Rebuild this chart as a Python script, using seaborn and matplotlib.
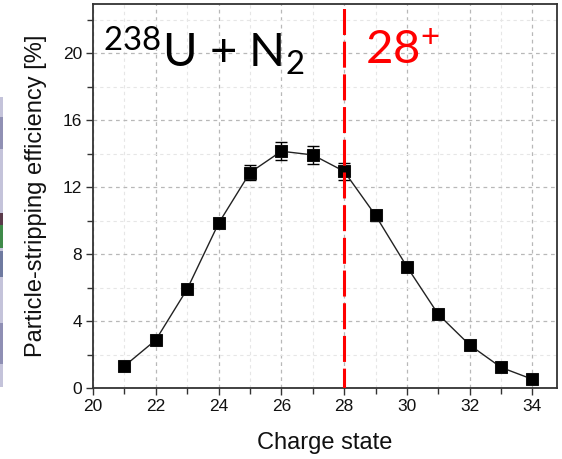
import matplotlib
matplotlib.use("Agg")
import matplotlib.pyplot as plt
from matplotlib.patches import Rectangle
from matplotlib.ticker import MultipleLocator
import numpy as np
import pandas as pd
import seaborn as sns

# Charge-state distribution of 238U after stripping in N2 gas
charge_state = [21, 22, 23, 24, 25, 26, 27, 28, 29, 30, 31, 32, 33, 34]
efficiency = [1.31, 2.87, 5.91, 9.84, 12.87, 14.15, 13.93, 12.95, 10.32, 7.25, 4.40, 2.57, 1.23, 0.52]
efficiency_err = [0.12, 0.15, 0.18, 0.30, 0.45, 0.55, 0.55, 0.50, 0.32, 0.20, 0.15, 0.12, 0.10, 0.10]
selected_charge = 28

x_ticks = [20, 22, 24, 26, 28, 30, 32, 34]
y_ticks = [0, 4, 8, 12, 16, 20]

sns.set_theme(style="white")
plt.rcParams["font.family"] = ["Liberation Sans", "DejaVu Sans"]
plt.rcParams["mathtext.fontset"] = "custom"
plt.rcParams["mathtext.rm"] = "Lato"

df = pd.DataFrame({"charge": charge_state, "eff": efficiency, "err": efficiency_err})

fig = plt.figure(figsize=(5.62, 4.59), dpi=100)
ax = fig.add_axes([0.1655, 0.1547, 0.8255, 0.8366])

# grid: dashed major, faint minor
ax.set_axisbelow(True)
ax.xaxis.set_major_locator(MultipleLocator(2))
ax.xaxis.set_minor_locator(MultipleLocator(1))
ax.yaxis.set_major_locator(MultipleLocator(4))
ax.yaxis.set_minor_locator(MultipleLocator(2))
ax.grid(which="major", color="#b8b8b8", linestyle=(0, (3, 3)), linewidth=0.9)
ax.grid(which="minor", color="#e6e6e6", linestyle=(0, (3, 3)), linewidth=0.8)

ax.errorbar(df["charge"], df["eff"], yerr=df["err"], fmt="none",
            ecolor="black", elinewidth=1.0, capsize=4.5, capthick=1.0, zorder=3)
sns.lineplot(data=df, x="charge", y="eff", color="#222222", linewidth=1.0,
             marker="s", markersize=8.5, markeredgecolor="#111111",
             markerfacecolor="black", ax=ax, zorder=4)

ax.axvline(selected_charge, color="#ff0000", linewidth=2.2,
           linestyle=(2, (8.5, 2.2)), zorder=5)

ax.set_xlim(20, 34.78)
ax.set_ylim(0, 22.95)
ax.set_xticks(x_ticks)
ax.set_yticks(y_ticks)

for side in ["left", "bottom", "top", "right"]:
    ax.spines[side].set_color("#333333")
    ax.spines[side].set_linewidth(1.3)

ax.tick_params(which="both", direction="out", color="#333333", width=1.0,
               bottom=True, left=True, top=False, right=False)
ax.tick_params(which="major", length=5, labelsize=12.5, pad=3, labelcolor="#111111")
ax.tick_params(which="minor", length=4)

ax.set_xlabel("Charge state", fontsize=17, color="#111111", labelpad=13)
ax.set_ylabel("Particle-stripping efficiency [%]", fontsize=17, color="#111111", labelpad=11)

ax.text(0.022, 0.836, r"$\mathregular{^{238}}$U + N$\mathregular{_2}$",
        transform=ax.transAxes, fontsize=34, family="Lato", color="black",
        ha="left", va="baseline", zorder=6)
ax.text(0.586, 0.843, r"28$\mathregular{^{+}}$",
        transform=ax.transAxes, fontsize=34, family="Lato", color="#ff0000",
        ha="left", va="baseline", zorder=6)

# narrow coloured strip along the left edge
strip = [(0.0, 1.0, "#c4c3da"), (0.08, 0.22, "#8f8fb4"), (0.38, 0.47, "#6f7aa0"),
         (0.48, 0.56, "#3f8a4a"), (0.56, 0.60, "#5a3a4a"), (0.82, 0.93, "#9090b4")]
y0, y1 = 1 - 387 / 459, 1 - 97 / 459
for a, b, c in strip:
    fig.patches.append(Rectangle((0.0, y0 + a * (y1 - y0)), 3.0 / 562, (b - a) * (y1 - y0),
                                 transform=fig.transFigure, facecolor=c,
                                 edgecolor="none", figure=fig))

fig.savefig("out.png", dpi=100)
